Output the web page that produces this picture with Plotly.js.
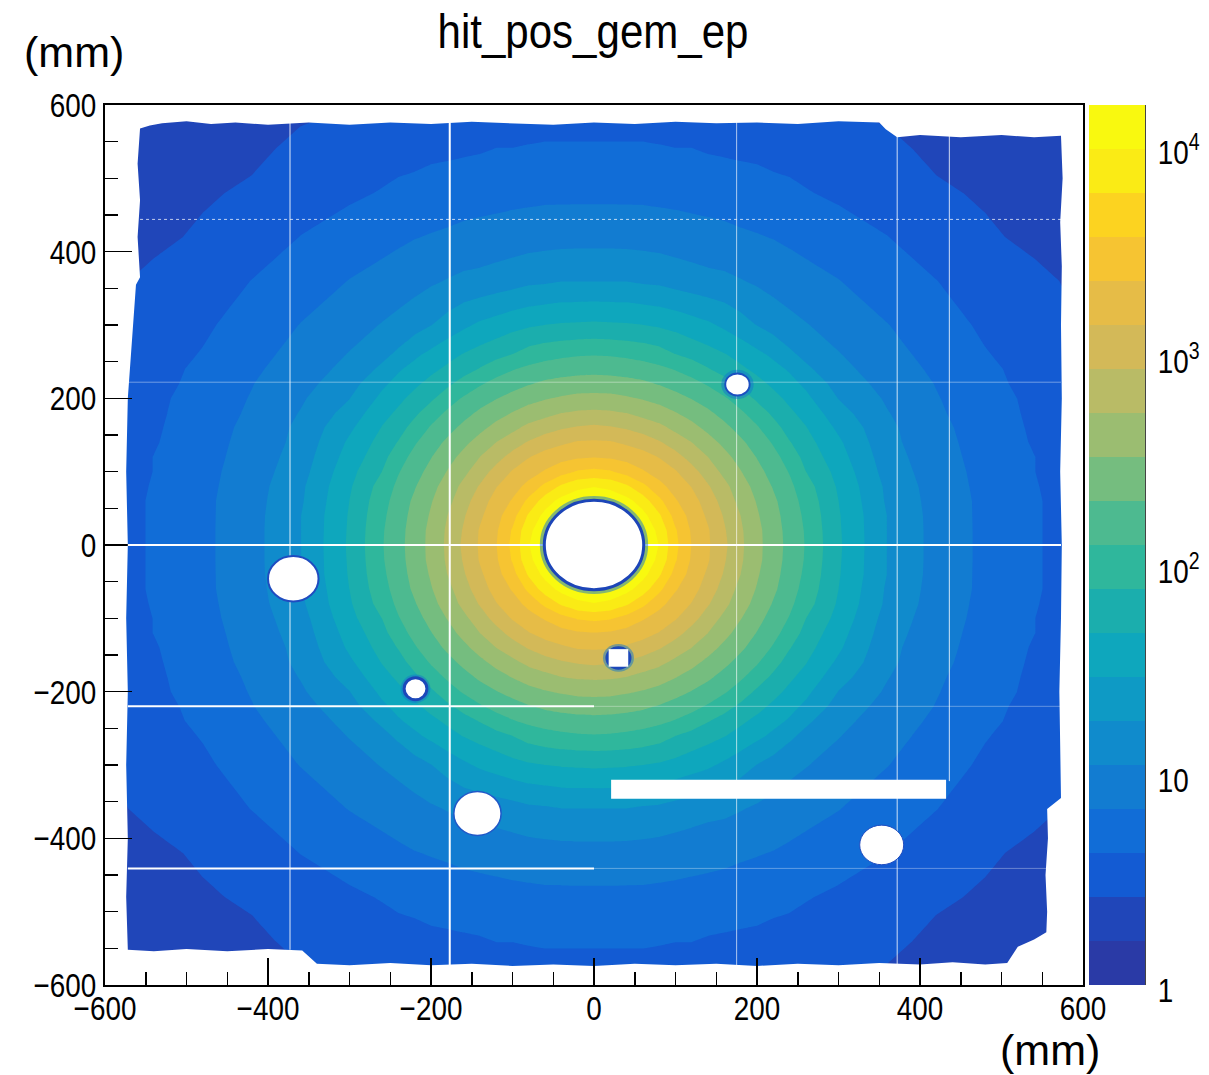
<!DOCTYPE html>
<html><head><meta charset="utf-8">
<script src="https://cdn.plot.ly/plotly-3.0.1.min.js"></script>
<style>html,body{margin:0;padding:0;background:#fff}</style></head>
<body><div id="plot" style="width:1209px;height:1075px"></div>
<script>
// Grid nodes in mm (one side; the map is read as mirror-symmetric around the beam axis)
const nodes = [0,20,40,60,80,100,120,140,160,180,200,220,240,260,300,360,420,480,540,600];
// Hits per bin, rows y = nodes, columns |x| = nodes
const hitCounts = [
[15000,15000,15000,15000,9600,4200,2250,1500,960,590,380,258,176,122,52,18,9.5,6.2,4.5,3.3],
[15000,15000,15000,14000,8700,3900,2150,1470,910,575,375,255,172,120,51,18,9.5,6.2,4.5,3.3],
[15000,15000,15000,11500,6500,3100,1950,1300,830,537,350,240,166,114,50,18,9.4,6.2,4.5,3.3],
[15000,14000,11500,7700,4200,2400,1700,1130,715,465,320,224,155,106,48,17,9.3,6.2,4.5,3.3],
[9600,8700,6500,4200,2650,1880,1380,910,610,405,285,197,140,95,45,16.5,9,6.1,4.4,3.3],
[4200,3900,3100,2400,1880,1470,1030,700,475,338,240,169,122,78,41,15,8.7,6,4.3,3.2],
[2250,2150,1950,1700,1380,1030,735,537,380,278,200,145,104,66,36,14,8.3,5.9,4.3,3.2],
[1500,1470,1300,1130,910,700,537,395,295,224,163,120,80,57,32,13,8,5.8,4.1,3.1],
[960,910,830,715,610,475,380,295,232,172,132,95,63,49,27,12.5,7.8,5.6,4,3.1],
[590,575,537,465,405,338,278,224,172,135,102,70,52,41,22,11.5,7.4,5.4,3.9,3],
[380,375,350,320,285,240,200,163,132,102,71,55,43,33,18,10.5,7.1,5.3,3.8,3],
[258,255,240,224,197,169,145,120,95,70,55,44,34,27,15,9.5,6.8,5,3.6,2.9],
[176,172,166,155,140,122,104,80,63,52,43,34,28,20,13,8.6,6.4,4.7,3.6,2.9],
[122,120,114,106,95,78,66,57,49,41,33,27,20,16,11.5,8,6,4.4,3.4,2.8],
[52,51,50,48,45,41,36,32,27,22,18,15,13,11.5,9.3,7,5.4,3.9,3.2,2.6],
[18,18,18,17,16.5,15,14,13,12.5,11.5,10.5,9.5,8.6,8,7,5.6,4.3,3.4,2.9,2.4],
[9.5,9.5,9.4,9.3,9,8.7,8.3,8,7.8,7.4,7.1,6.8,6.4,6,5.4,4.3,3.4,2.8,2.4,2.2],
[6.2,6.2,6.2,6.2,6.1,6,5.9,5.8,5.6,5.4,5.3,5,4.7,4.4,3.9,3.4,2.8,2.5,2.2,2],
[4.5,4.5,4.5,4.5,4.4,4.3,4.3,4.1,4,3.9,3.8,3.6,3.6,3.4,3.2,2.9,2.4,2.2,2,1.8],
[3.3,3.3,3.3,3.3,3.3,3.2,3.2,3.1,3.1,3,3,2.9,2.9,2.8,2.6,2.4,2.2,2,1.8,1.6]
];
// Colours of the 20 bands of the palette, bottom to top
const bandColors = ['#2a3aa6','#174fc9','#1063da','#1272d5','#1280d0','#0f8ecb','#0e9dc4','#0ea8bc','#1cafac','#30b79c',
 '#4cba90','#72bd80','#97bd72','#b4bc68','#cfb85c','#e1bb4c','#f2c03a','#fdcb24','#fae019','#f9f90f'];
// Outline of the sensitive area, mm
const edgeX = [-557,-545,-530,-500,-470,-440,-400,-350,-300,-250,-200,-150,-100,-50,0,50,100,150,200,250,300,350,358,372,400,450,500,540,573,575,572,574,573,574,572,574,573,571,573,556,557,554,556,555,540,520,507,480,440,400,350,300,250,200,150,100,50,0,-50,-100,-150,-200,-250,-300,-340,-358,-400,-450,-500,-540,-572,-574,-572,-574,-572,-574,-572,-574,-572,-562,-557,-560,-557,-560,-557];
const edgeY = [568,572,575,578,574,576,573,576,573,576,574,577,575,573,576,574,577,575,576,574,578,576,567,556,559,556,559,556,558,500,440,380,300,200,100,0,-100,-200,-345,-360,-400,-450,-500,-528,-538,-548,-570,-572,-569,-572,-570,-573,-571,-574,-571,-573,-571,-574,-572,-574,-571,-573,-570,-573,-571,-553,-551,-554,-551,-554,-552,-480,-400,-300,-200,-100,0,100,200,355,365,420,470,520,568];
// Inactive spots: centre x, centre y, radius x, radius y, mm
const holeX = [0,-369,-219,176,-143,353];
const holeY = [0,-46,-196,219,-366,-409];
const holeRx = [61,31,14,15,29,27];
const holeRy = [61,31,15,15,30,27];
const holeRim = ['#1c45b8','#1f4cc0','#1c48ba','#1c50c0','#2058c8','#1f4cc0'];
const holeRimW = [3,2,3,2,1.5,1];
const holeHaloW = [4,0,2,3,0,0];
// The small square spot: centre, half width
const squareX = 30, squareY = -154, squareHalf = 12;
// Dead strips between sectors: x or y, from, to, line width, colour
const stripVX = [-373,-177,175,372,436];
const stripVFrom = [-552,-573,-573,-573,-322];
const stripVTo = [576,576,577,558,558];
const stripVW = [1,2,1,1,1];
const stripVColor = ['#ffffffdd','#ffffff','#ffffffaa','#ffffffcc','#ffffffcc'];
const stripHY = [0,-220,-220,-441,-441,444,222];
const stripHFrom = [-572,-572,0,-572,0,-557,-572];
const stripHTo = [573,0,573,0,555,573,573];
const stripHW = [2,2,1,2,1,1,1];
const stripHColor = ['#ffffff','#ffffff','#ffffff55','#ffffff','#ffffff55','#ffffffbb','#ffffff66'];
const gapX = [21,432], gapY = [-346,-320];
const barTicks = [1,10,100,1000,10000];
const barTickText = ['1','10','10<sup>2</sup>','10<sup>3</sup>','10<sup>4</sup>'];
const barMinor = [2,3,4,5,6,7,8,9,20,30,40,50,60,70,80,90,200,300,400,500,600,700,800,900,2000,3000,4000,5000,6000,7000,8000,9000];
const xTicks = [-600,-400,-200,0,200,400,600];

const axisNodes = nodes.slice(1).reverse().map(v=>-v).concat(nodes);
const mirrorRow = r => r.slice(1).reverse().concat(r);
const z = hitCounts.slice(1).reverse().concat(hitCounts).map(r=>mirrorRow(r).map(v=>Math.log10(v)));

const scale = [];
bandColors.forEach((c,i)=>{ scale.push([(i+0.5)/20,c]); });
scale.unshift([0,bandColors[0]]); scale.push([1,bandColors[19]]);

const W=1209,H=1075,L=105,R=9,T=105,B=90;
const P=W-L-R, plotW=978;

const revX=edgeX.slice().reverse(), revY=edgeY.slice().reverse();
const maskX=[-600,600,600,-600,-600].concat(revX,[revX[0],-600]);
const maskY=[600,600,-600,-600,600].concat(revY,[revY[0],600]);

const traces=[
 {type:'contour',x:axisNodes,y:axisNodes,z:z,zmin:0,zmax:4.2,autocontour:false,
  contours:{start:0.21,end:3.99,size:0.21,coloring:'fill',showlines:false},line:{width:0,smoothing:0},
  colorscale:scale,hoverinfo:'skip',
  colorbar:{x:984/P,xanchor:'left',xpad:0,ypad:0,y:0,yanchor:'bottom',len:1,lenmode:'fraction',thickness:56,thicknessmode:'pixels',
    outlinewidth:0,ticks:'',showticklabels:false}},
 {type:'scatter',mode:'lines',x:maskX,y:maskY,fill:'toself',fillcolor:'#ffffff',line:{width:0,color:'#ffffff'},hoverinfo:'skip',showlegend:false},
 {type:'scatter',mode:'markers',x:[0],y:[1],xaxis:'x',yaxis:'y2',marker:{opacity:0,size:1},hoverinfo:'skip',showlegend:false}
];

const shapes=[];
stripVX.forEach((v,i)=>shapes.push({type:'line',xref:'x',yref:'y',x0:v,x1:v,y0:stripVFrom[i],y1:stripVTo[i],line:{color:stripVColor[i],width:stripVW[i]}}));
stripHY.forEach((v,i)=>shapes.push({type:'line',xref:'x',yref:'y',y0:v,y1:v,x0:stripHFrom[i],x1:stripHTo[i],line:{color:stripHColor[i],width:stripHW[i],dash:v===444?'dot':'solid'}}));
shapes.push({type:'rect',xref:'x',yref:'y',x0:gapX[0],x1:gapX[1],y0:gapY[0],y1:gapY[1],fillcolor:'#fff',line:{width:0}});
holeX.forEach((v,i)=>{
 if(holeHaloW[i]>0) shapes.push({type:'circle',xref:'x',yref:'y',x0:v-holeRx[i]-3,x1:v+holeRx[i]+3,y0:holeY[i]-holeRy[i]-3,y1:holeY[i]+holeRy[i]+3,fillcolor:'rgba(0,0,0,0)',line:{color:'rgba(20,120,205,0.5)',width:holeHaloW[i]}});
 shapes.push({type:'circle',xref:'x',yref:'y',x0:v-holeRx[i],x1:v+holeRx[i],y0:holeY[i]-holeRy[i],y1:holeY[i]+holeRy[i],fillcolor:'#fff',line:{color:holeRim[i],width:holeRimW[i]}});
});
shapes.push({type:'circle',xref:'x',yref:'y',x0:squareX-19,x1:squareX+19,y0:squareY-19,y1:squareY+19,fillcolor:'rgba(20,120,205,0.5)',line:{width:0}});
shapes.push({type:'circle',xref:'x',yref:'y',x0:squareX-16,x1:squareX+16,y0:squareY-16,y1:squareY+16,fillcolor:'#1c48ba',line:{width:0}});
shapes.push({type:'rect',xref:'x',yref:'y',x0:squareX-squareHalf,x1:squareX+squareHalf,y0:squareY-squareHalf,y1:squareY+squareHalf,fillcolor:'#fff',line:{width:0}});

const plain='"Liberation Sans",Arial,sans-serif';
const tickFont={family:plain,size:34,color:'#000'};
const layout={
 width:W,height:H,paper_bgcolor:'#fff',plot_bgcolor:'#fff',showlegend:false,
 margin:{l:L,r:R,t:T,b:B,pad:0},
 title:{text:'hit_pos_gem_ep',font:{family:plain,size:48,color:'#000'},xref:'paper',x:(593-L)/P,xanchor:'center',yref:'container',y:1-31/H,yanchor:'middle'},
 xaxis:{domain:[0,plotW/P],range:[-600,600],autorange:false,tickmode:'array',tickvals:xTicks,ticks:'inside',ticklen:27,tickwidth:1.5,tickcolor:'#000',ticklabelstandoff:-8,
   minor:{dtick:50,tick0:0,ticks:'inside',ticklen:13,tickwidth:1.5,tickcolor:'#000',showgrid:false},
   showgrid:false,zeroline:false,showline:true,mirror:true,linecolor:'#000',linewidth:2,tickfont:tickFont},
 yaxis:{range:[-600,600],autorange:false,tickmode:'array',tickvals:xTicks,ticks:'inside',ticklen:27,tickwidth:1.5,tickcolor:'#000',
   minor:{dtick:50,tick0:0,ticks:'inside',ticklen:13,tickwidth:1.5,tickcolor:'#000',showgrid:false},
   showgrid:false,zeroline:false,showline:true,mirror:true,linecolor:'#000',linewidth:2,tickfont:tickFont},
 yaxis2:{type:'log',range:[0,4.2],autorange:false,overlaying:'y',anchor:'free',position:1040/P,side:'right',ticklabelstandoff:5,
   tickmode:'array',tickvals:barTicks,ticktext:barTickText,ticks:'inside',ticklen:28,tickwidth:1.5,tickcolor:'#000',
   minor:{tickmode:'array',tickvals:barMinor,ticks:'inside',ticklen:14,tickwidth:1.5,tickcolor:'#000',showgrid:false},
   showgrid:false,zeroline:false,showline:true,linecolor:'#444',linewidth:1,tickfont:tickFont},
 shapes:shapes,
 annotations:[
  {text:'(mm)',xref:'paper',yref:'paper',x:(74-L)/P,y:(H-B-52)/(H-T-B),xanchor:'center',yanchor:'middle',showarrow:false,font:{family:plain,size:43,color:'#000'}},
  {text:'(mm)',xref:'paper',yref:'paper',x:(1050-L)/P,y:(H-B-1050)/(H-T-B),xanchor:'center',yanchor:'middle',showarrow:false,font:{family:plain,size:43,color:'#000'}}
 ]
};
// The reference uses a condensed Helvetica, which is not installed: narrow the real text horizontally around its anchor.
function narrowText(sel,f,dy){
 document.querySelectorAll(sel).forEach(t=>{
  const x=parseFloat(t.getAttribute('x'))||0, old=t.getAttribute('transform')||'';
  t.setAttribute('transform',old+' translate('+x+','+(dy||0)+') scale('+f+',1) translate('+(-x)+',0)');
 });
}
Plotly.newPlot('plot',traces,layout,{displayModeBar:false,staticPlot:true}).then(()=>{
 narrowText('.xtick text,.ytick text',0.82);
 narrowText('.y2tick text',0.82,5);
 narrowText('.gtitle',0.876);
});
</script></body></html>
